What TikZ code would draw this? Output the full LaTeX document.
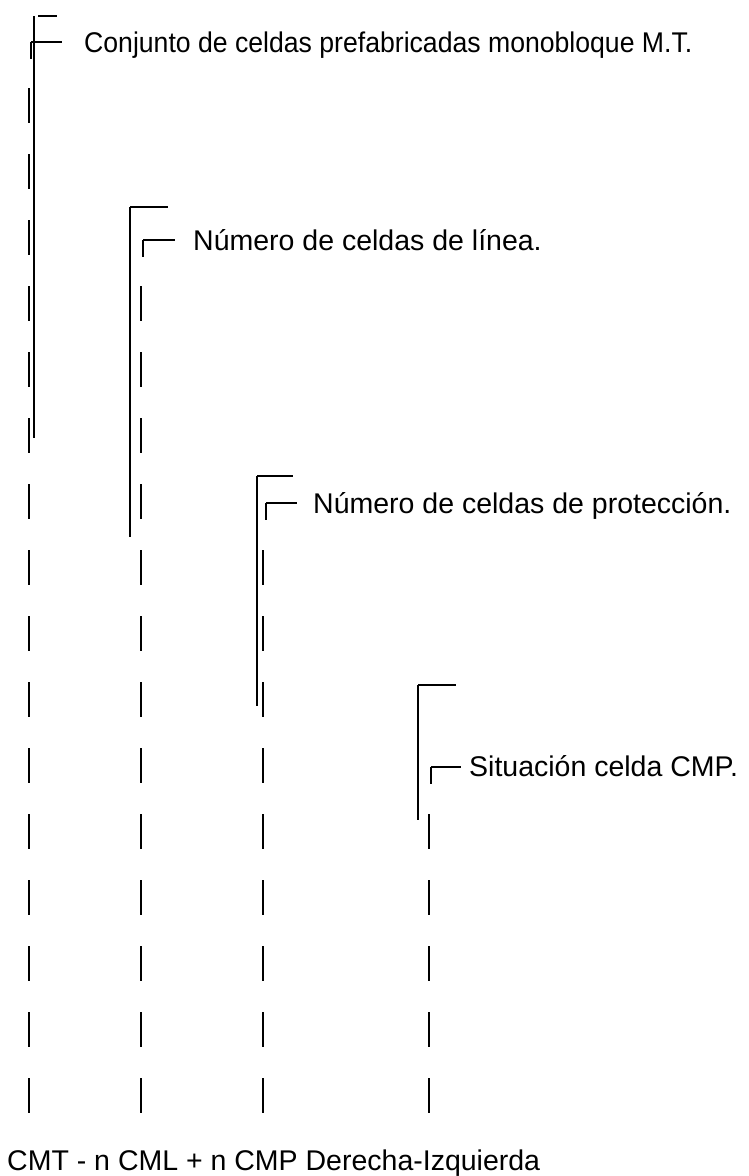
\documentclass[tikz,border=0pt]{standalone}
\usepackage{fontspec}
\setmainfont{Liberation Sans}
\begin{document}
\begin{tikzpicture}[x=1pt,y=-1pt,
  bar/.style={line width=2.2pt},
  leader/.style={line width=2pt},
  tick/.style={line width=1.8pt},
  lbl/.style={anchor=base west,inner sep=0pt,font=\fontsize{28.5}{32}\selectfont}]
\useasboundingbox (0,0) rectangle (749,1176);
% dashed columns made of bars
\foreach \k in {0,...,15} {\draw[bar] (29,88+66*\k) -- (29,123+66*\k);}
\foreach \k in {3,...,15} {\draw[bar] (141,88+66*\k) -- (141,123+66*\k);}
\foreach \k in {7,...,15} {\draw[bar] (263,88+66*\k) -- (263,123+66*\k);}
\foreach \k in {11,...,15} {\draw[bar] (429,88+66*\k) -- (429,123+66*\k);}
% group 1
\draw[leader] (33.5,16) -- (33.5,438);
\draw[tick] (38,16) -- (57,16);
\draw[tick] (31,42) -- (62,42);
\draw[leader] (31,42) -- (31,59);
\node[lbl] (t1) at (84,52) {\scalebox{0.934}[1]{Conjunto de celdas prefabricadas monobloque M.T.}};
% group 2
\draw[leader] (130,207) -- (130,537);
\draw[tick] (130,207) -- (168,207);
\draw[tick] (143,240) -- (175,240);
\draw[leader] (143,240) -- (143,257);
\node[lbl] (t2) at (193,250) {Número de celdas de línea.};
% group 3
\draw[leader] (257,476) -- (257,706);
\draw[tick] (257,476) -- (293,476);
\draw[tick] (266,503) -- (297,503);
\draw[leader] (266,503) -- (266,520);
\node[lbl] (t3) at (313,513) {Número de celdas de protección.};
% group 4
\draw[leader] (418,685) -- (418,820);
\draw[tick] (418,685) -- (456,685);
\draw[tick] (431,767) -- (461,767);
\draw[leader] (431,767) -- (431,784);
\node[lbl] (t4) at (469,776) {Situación celda CMP.};
% bottom caption
\node[lbl] (cap) at (7,1170) {CMT - n CML + n CMP Derecha-Izquierda};
\end{tikzpicture}
\end{document}
